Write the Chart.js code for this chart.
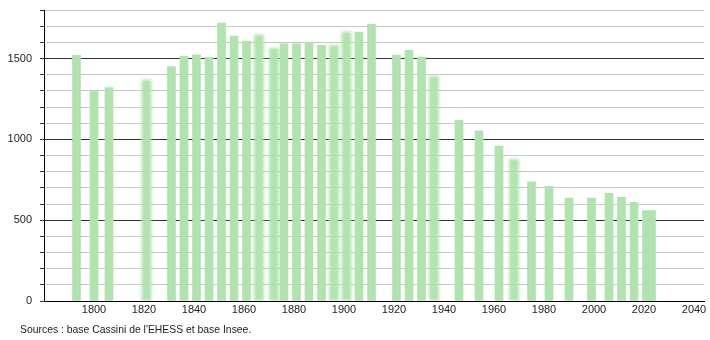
<!DOCTYPE html>
<html>
<head>
<meta charset="utf-8">
<script src="https://cdn.jsdelivr.net/npm/chart.js@4/dist/chart.umd.min.js"></script>
<style>
  html, body { margin: 0; padding: 0; background: #fff; }
  #wrap { width: 710px; height: 340px; position: relative; }
</style>
</head>
<body>
<div id="wrap"><canvas id="popChart"></canvas></div>
<script>
// census years + population
const years = [1793, 1800, 1806, 1831, 1836, 1841, 1846, 1851, 1856, 1861,
  1876, 1881, 1886, 1891, 1906, 1911, 1921, 1926, 1931,
  1946, 1954, 1962, 1975, 1982, 1990, 1999, 2006, 2011, 2016, 2021, 2023]
const population = [1520, 1300, 1320, 1450, 1513, 1523, 1507, 1719, 1638, 1607,
  1590, 1590, 1598, 1582, 1663, 1712, 1521, 1550, 1509,
  1117, 1052, 959, 737, 710, 637, 637, 666, 641, 610, 560, 560]

// the fuzzy bars
const fuzzyYears = [1821, 1866, 1872, 1896, 1901, 1936, 1968]
const fuzzyPopulation = [1366, 1646, 1563, 1582, 1663, 1389, 876]

const xTickYears = [1800, 1820, 1840, 1860, 1880, 1900, 1920, 1940, 1960, 1980, 2000, 2020, 2040]
const yLabelValues = [0, 500, 1000, 1500]

const sourceLine = "Sources : base Cassini de l'EHESS et base Insee."

const barColor = '#b0e3ae'

const toPoints = (xs, ys) => xs.map((x, i) => ({ x: x, y: ys[i] }))

// blur the fuzzy dataset while it is drawn
const fuzzPlugin = {
  id: 'fuzz',
  beforeDatasetDraw(chart, args) {
    if (args.index === 1) {
      chart.ctx.save()
      chart.ctx.filter = 'blur(1.6px)'
    }
  },
  afterDatasetDraw(chart, args) {
    if (args.index === 1) {
      chart.ctx.restore()
    }
  }
}

const sourcePlugin = {
  id: 'sourceText',
  afterDraw(chart) {
    const ctx = chart.ctx
    ctx.save()
    ctx.font = '10.4px "Liberation Sans", Arial, sans-serif'
    ctx.fillStyle = '#222'
    ctx.textBaseline = 'middle'
    ctx.fillText(sourceLine, 20, 330)
    ctx.restore()
  }
}

const canvas = document.getElementById('popChart')
const popChart = new Chart(canvas, {
  type: 'bar',
  data: {
    datasets: [{
      label: 'Population',
      data: toPoints(years, population),
      backgroundColor: barColor,
      barThickness: 8,
      grouped: false,
      borderWidth: 0
    }, {
      label: 'Population (fuzzy)',
      data: toPoints(fuzzyYears, fuzzyPopulation),
      backgroundColor: barColor,
      barThickness: 9,
      grouped: false,
      borderWidth: 0
    }]
  },
  options: {
    responsive: true,
    maintainAspectRatio: false,
    animation: false,
    layout: { padding: { top: 10, right: 6, bottom: 18, left: 0 } },
    plugins: {
      legend: { display: false },
      tooltip: { enabled: false }
    },
    scales: {
      x: {
        type: 'linear',
        min: 1780,
        max: 2044,
        offset: false,
        grid: { display: false, drawTicks: false },
        border: { color: '#000', width: 1 },
        afterBuildTicks: (scale) => {
          scale.ticks = xTickYears.map(v => ({ value: v }))
        },
        afterFit: (scale) => { scale.height = 21 },
        ticks: {
          padding: 2,
          color: '#222',
          font: { family: '"Liberation Sans", Arial, sans-serif', size: 11 },
          maxRotation: 0,
          autoSkip: false,
          callback: (v) => String(v)
        }
      },
      y: {
        min: 0,
        max: 1800,
        afterFit: (scale) => {
          scale.width = 44
          scale.paddingTop = 0
        },
        border: { color: '#000', width: 1 },
        grid: {
          color: (c) => (c.tick && c.tick.value % 500 === 0) ? '#333' : '#c8c8c8',
          tickColor: '#333',
          tickLength: 4
        },
        ticks: {
          stepSize: 100,
          padding: 8,
          color: '#222',
          autoSkip: false,
          font: { family: '"Liberation Sans", Arial, sans-serif', size: 11 },
          callback: (v) => yLabelValues.includes(v) ? String(v) : ''
        }
      }
    }
  },
  plugins: [fuzzPlugin, sourcePlugin]
})
</script>
</body>
</html>
